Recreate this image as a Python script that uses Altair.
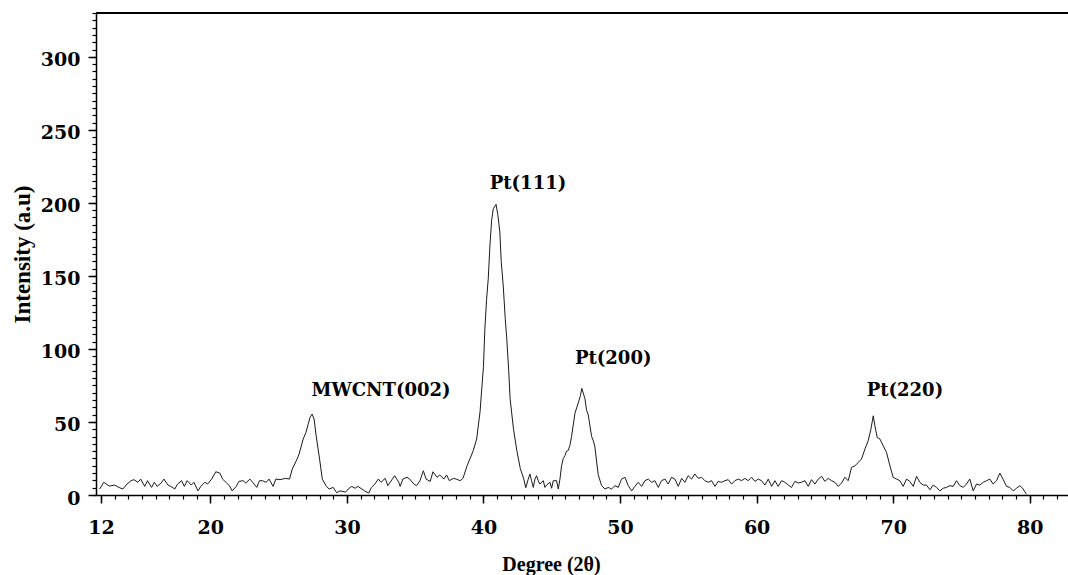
import altair as alt
import pandas as pd

# ---- data (2θ in degrees, intensity in a.u.) ----
theta_a = [11.9,12.2,12.6,13.0,13.3,13.6,13.9,14.2,14.4,14.7,14.9,15.2,15.4,15.7,15.9,16.1,16.4,16.6,16.9,17.1,
           17.4,17.6,17.9,18.1,18.3,18.6,18.8,19.1,19.3,19.6,19.8,20.1,20.4,20.7,20.9,21.2,21.4,21.6,21.9,22.1,
           22.4,22.6,22.9,23.1,23.4,23.6,23.8,24.1,24.3,24.6,24.8,25.1,25.3,25.5,25.8,26.0,26.3,26.5,26.8,27.0,
           27.3,27.45,27.6,27.75,28.0,28.2,28.5,28.7,29.0,29.25]
inten_a = [4.1,8.7,6.1,6.8,5.2,4.1,7.5,9.8,10.5,8.7,10.9,5.9,9.8,5.2,8.7,5.9,8.2,10.9,6.8,5.9,
           4.1,7.5,9.8,5.9,9.8,6.8,8.7,2.8,5.9,8.7,7.5,10.9,15.9,15.0,10.9,8.2,6.4,2.8,5.9,9.3,
           9.8,8.2,10.9,8.7,5.2,9.8,9.8,8.7,10.9,5.9,10.9,10.5,10.9,11.4,10.9,17.8,23.5,28.0,38.3,42.8,
           53.1,55.4,52.0,40.5,24.6,10.9,5.9,4.1,5.2,1.6]

theta_b = [29.5,29.9,30.1,30.35,30.6,30.8,31.1,31.3,31.6,31.8,32.05,32.3,32.5,32.8,33.0,33.3,33.5,33.8,33.9,34.1,
           34.4,34.6,34.9,35.1,35.35,35.6,35.8,36.1,36.3,36.6,36.8,37.1,37.3,37.5,37.8,38.0,38.3,38.5,38.8,39.0,
           39.25]
inten_b = [2.8,2.0,4.1,5.9,4.6,5.9,4.1,2.8,1.3,5.2,7.5,10.9,8.7,11.4,6.4,10.5,13.2,8.7,5.9,10.9,
           12.1,10.9,7.5,6.4,9.8,16.6,10.9,9.3,15.9,12.1,13.7,10.9,13.7,9.8,11.4,10.9,9.8,11.4,20.0,24.6,
           30.3]

theta_c = [39.5,39.75,39.87,40.0,40.1,40.23,40.35,40.48,40.6,40.72,40.92,41.05,41.2,41.3,41.45,41.6,41.7,41.85,41.95,42.2,
           42.45,42.7,42.95,43.1]
inten_c = [38.3,57,72,88,113,134,148,172,188,196,199,192,180,160,143,120,108,85,66,45,
           30,18,11,5]

theta_d = [43.28,43.4,43.52,43.65,43.77,43.89,44.01,44.13,44.38,44.5,44.62,44.87,44.99,45.11,45.35,45.48,45.6,45.72,45.84,45.97,
           46.08,46.21,46.33,46.45,46.7,46.94,47.1,47.2,47.43,47.55,47.67,47.92,48.05,48.16,48.4,48.65,48.9,49.14,49.38,49.63,
           49.87]
inten_d = [10.9,14.4,9.8,5.2,10.9,13.2,9.8,7.5,9.8,5.2,6.8,8.7,4.6,9.8,9.8,4.1,10.9,20.0,25.0,27.0,
           30.0,30.5,34.0,40.0,56.0,63.0,68.0,73.0,66.0,58.0,55.0,40.0,37.0,33.0,14.0,6.4,4.1,5.2,4.1,6.4,
           5.2]

theta_e = [50.11,50.36,50.6,50.85,51.09,51.33,51.58,51.82,52.07,52.31,52.55,52.8,53.04,53.29,53.53,53.77,54.02,54.26,54.51,54.75,
           54.99,55.24,55.48,55.73,55.97,56.21,56.46,56.7,56.95,57.19,57.43,57.68,57.92,58.17,58.41,58.66,58.9,59.14,59.39,59.63,
           59.88,60.12,60.36,60.61,60.85,61.1,61.34,61.58,61.83,62.07,62.32,62.56,62.8,63.05]
inten_e = [10.9,12.1,6.4,2.8,5.9,8.7,5.9,9.8,10.9,8.7,9.8,5.2,9.8,10.9,7.5,12.1,10.9,5.9,11.4,8.7,
           13.2,10.9,14.4,11.4,12.1,9.8,8.7,9.8,5.9,9.3,8.7,9.8,10.5,7.5,9.8,10.9,9.8,11.4,9.8,12.1,
           9.3,10.9,9.8,6.8,10.9,5.9,9.8,5.9,9.8,8.7,6.8,5.2,9.3,8.2]

theta_f = [63.29,63.54,63.78,64.02,64.27,64.51,64.76,65.0,65.24,65.49,65.73,65.98,66.22,66.46,66.71,66.95,67.2,67.44,67.68,67.93,
           68.17,68.37,68.54,68.66,68.83,69.03,69.27,69.51,69.76,70.0,70.25,70.49,70.73,70.98,71.22,71.47,71.71,71.95,72.2,72.44,
           72.69,72.93,73.17,73.42,73.66,73.91,74.15,74.39,74.64,74.88,75.13,75.37,75.61,75.86,76.1,76.35,76.59,76.84,77.08,77.32,
           77.57,77.81,78.06,78.3,78.54,78.79,79.03,79.28,79.52,79.76]
inten_f = [8.7,9.8,5.9,10.5,7.5,10.9,12.8,9.3,11.4,9.8,8.7,5.9,8.2,12.1,9.8,18.9,20.0,22.3,24.6,31.4,
           37.2,45.1,54.2,47.4,39.4,38.3,33.7,29.2,20.0,12.1,10.9,9.8,5.9,10.9,9.3,5.9,12.8,8.7,6.8,6.8,
           3.6,6.8,5.2,2.8,4.6,5.2,6.4,5.9,9.8,6.4,5.2,7.5,10.9,2.8,7.5,6.8,8.7,9.8,10.9,7.5,
           9.8,15.0,10.5,5.9,5.2,2.8,4.6,6.4,4.1,0.5]

peak_labels = ["MWCNT(002)", "Pt(111)", "Pt(200)", "Pt(220)"]
peak_label_x = [32.5, 43.26, 49.5, 70.86]
peak_label_y = [71, 212.6, 93, 71]

x_major = [12, 20, 30, 40, 50, 60, 70, 80]
x_minor = list(range(12, 83))
y_major = [0, 50, 100, 150, 200, 250, 300]
y_minor = list(range(0, 331, 5))

two_theta = theta_a + theta_b + theta_c + theta_d + theta_e + theta_f
intensity = inten_a + inten_b + inten_c + inten_d + inten_e + inten_f
df = pd.DataFrame({"two_theta": two_theta, "intensity": intensity})
lab_df = pd.DataFrame({"label": peak_labels, "x": peak_label_x, "y": peak_label_y})

W, H = 972, 482
SERIF = "DejaVu Serif"
TIMES = "Liberation Serif"

xs = alt.Scale(domain=[11.63, 82.8], nice=False, zero=False)
ys = alt.Scale(domain=[0, 330], nice=False, zero=False)

line = alt.Chart(df).mark_line(color="#1a1a1a", strokeWidth=1).encode(
    x=alt.X("two_theta:Q", scale=xs,
            axis=alt.Axis(values=x_major, orient="bottom", tickSize=8, tickWidth=1.5,
                          domainWidth=1.5, domainColor="black", tickColor="black",
                          labelPadding=15, labelFlush=False, labelOverlap=False,
                          labelFont=SERIF, labelFontSize=19, labelFontWeight="bold", labelColor="black",
                          grid=False, title="Degree (2θ)", titleFont=TIMES, titleFontSize=20,
                          titleFontWeight="bold", titleColor="black",
                          titleX=455, titleY=59, titleBaseline="top")),
    y=alt.Y("intensity:Q", scale=ys,
            axis=alt.Axis(values=y_major, orient="left", tickSize=8, tickWidth=1.5,
                          domainWidth=1.5, domainColor="black", tickColor="black",
                          labelPadding=8, labelOffset=3, labelFlush=False, labelOverlap=False,
                          labelFont=SERIF, labelFontSize=19, labelFontWeight="bold", labelColor="black",
                          grid=False, title="Intensity (a.u)", titleFont=TIMES,
                          titleFontSize=23, titleFontWeight="bold", titleColor="black",
                          titleAngle=270, titleX=-74, titleY=241, titleBaseline="middle")),
)

minor = alt.Chart(df).mark_point(opacity=0, size=1).encode(
    x=alt.X("two_theta:Q", scale=xs,
            axis=alt.Axis(values=x_minor, orient="bottom", tickSize=4, tickWidth=1.2,
                          tickColor="black", domain=False, labels=False, grid=False, title="")),
    y=alt.Y("intensity:Q", scale=ys,
            axis=alt.Axis(values=y_minor, orient="left", tickSize=4, tickWidth=1.2,
                          tickColor="black", domain=False, labels=False, grid=False, title="")),
)

top_border = alt.Chart(df).mark_rule(color="black", strokeWidth=1.5).encode(
    x=alt.value(0), x2=alt.value(W), y=alt.value(0)
)

labels = alt.Chart(lab_df).mark_text(font=SERIF, fontSize=18, fontWeight="bold",
                                     color="black", align="center", baseline="middle").encode(
    x=alt.X("x:Q", scale=xs, axis=None),
    y=alt.Y("y:Q", scale=ys, axis=None),
    text="label:N",
)

chart = alt.layer(line, minor, top_border, labels).resolve_axis(
    x="independent", y="independent"
).properties(
    width=W, height=H,
    autosize=alt.AutoSizeParams(type="none"),
    padding={"left": 96, "top": 13, "right": 0, "bottom": 80},
).configure_view(stroke="transparent").configure(background="white")

chart.save("out.html", embed_options={"renderer": "svg", "actions": False})
